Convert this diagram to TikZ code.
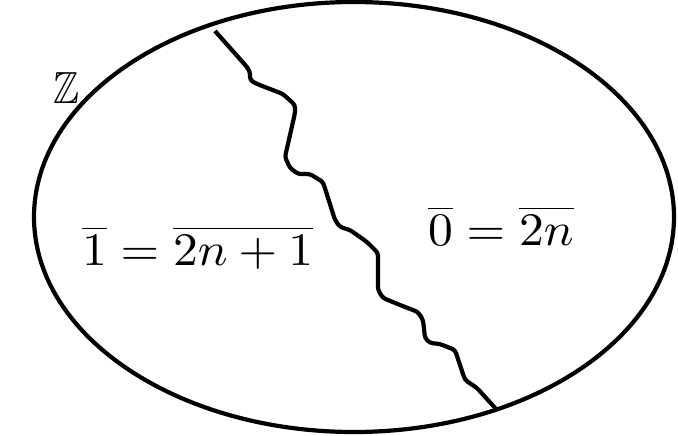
\documentclass[tikz,border=0pt]{standalone}
\usepackage{amssymb}
\usepackage{graphicx}
\begin{document}
\begin{tikzpicture}[x=1pt,y=-1pt,
  outline/.style={line width=4.2pt},
  wave/.style={line width=4.2pt, rounded corners=3pt, line join=round},
  label/.style={inner sep=0pt}]
\useasboundingbox (0,0) rectangle (678,436);
\draw[outline] (354,217) ellipse [x radius=320, y radius=215];
\coordinate (ws) at (215,31);
\coordinate (we) at (497,410);
\draw[wave] (ws) -- (247,67) -- (250,72) -- (250,80) -- (257,84) -- (283,94) -- (295,105) -- (295,113)
  -- (285,157) -- (290,168) -- (298,174) -- (310,174) -- (323,182) -- (335,220) -- (340,227)
  -- (350,230) -- (367,242) -- (378,253) -- (378,290) -- (383,298) -- (400,305) -- (418,312)
  -- (423,320) -- (425,338) -- (430,343) -- (440,344) -- (455,350) -- (465,380) -- (477,388) -- (we);
\node[label, anchor=center] (z) at (66,88) {\scalebox{3.9}[4.5]{$\mathbb{Z}$}};
\node[label, anchor=base west] (one) at (82,265) {\scalebox{4.96}[4.66]{$\overline{1}=\overline{2n+1}$}};
\node[label, anchor=base west] (zero) at (428,245) {\scalebox{4.96}[4.66]{$\overline{0}=\overline{2n}$}};
\end{tikzpicture}
\end{document}
